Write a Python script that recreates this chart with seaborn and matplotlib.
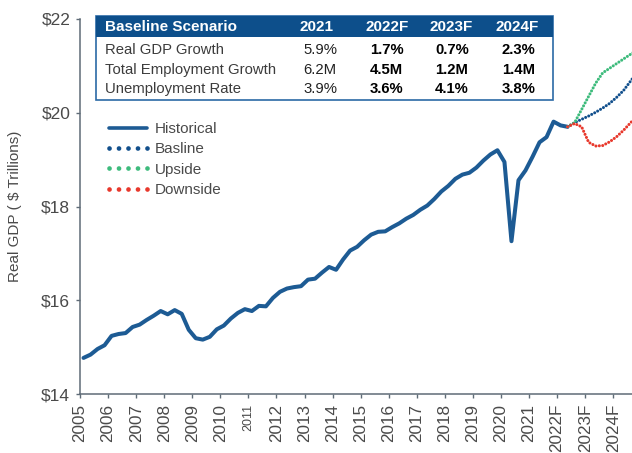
import matplotlib
matplotlib.use("Agg")
import matplotlib.pyplot as plt
import matplotlib.patches as patches
from matplotlib.lines import Line2D
from matplotlib.ticker import FuncFormatter
import seaborn as sns
import pandas as pd

# real GDP, $ trillions, quarterly from 2005Q1 to 2022Q2
hist_gdp = [14.77, 14.84, 14.96, 15.04,
            15.24, 15.28, 15.30, 15.43,
            15.48, 15.58, 15.67, 15.77,
            15.70, 15.79, 15.71, 15.37,
            15.19, 15.16, 15.22, 15.38,
            15.46, 15.61, 15.73, 15.81,
            15.77, 15.88, 15.87, 16.05,
            16.18, 16.25, 16.28, 16.30,
            16.44, 16.46, 16.59, 16.71,
            16.65, 16.87, 17.06, 17.14,
            17.28, 17.40, 17.46, 17.47,
            17.56, 17.64, 17.74, 17.82,
            17.93, 18.02, 18.16, 18.32,
            18.44, 18.59, 18.68, 18.72,
            18.83, 18.98, 19.11, 19.20,
            18.95, 17.26, 18.56, 18.77,
            19.06, 19.37, 19.48, 19.81,
            19.73, 19.70]

# forecasts, 2022Q2 to 2024Q4
baseline = [19.70, 19.79, 19.86, 19.93, 20.01, 20.10, 20.20, 20.33, 20.48, 20.68, 20.88]
upside = [19.70, 19.79, 20.07, 20.35, 20.63, 20.85, 20.95, 21.05, 21.15, 21.25, 21.35]
downside = [19.70, 19.77, 19.70, 19.37, 19.29, 19.30, 19.38, 19.49, 19.63, 19.79, 19.95]

years = list(range(2005, 2025))
year_labels = [str(y) for y in range(2005, 2022)] + ["2022F", "2023F", "2024F"]
y_ticks = [14, 16, 18, 20, 22]

table_cols = ["Baseline Scenario", "2021", "2022F", "2023F", "2024F"]
table_rows = ["Real GDP Growth", "Total Employment Growth", "Unemployment Rate"]
table_vals = [["5.9%", "1.7%", "0.7%", "2.3%"],
              ["6.2M", "4.5M", "1.2M", "1.4M"],
              ["3.9%", "3.6%", "4.1%", "3.8%"]]

c_hist = "#1d5b94"
c_base = "#114f8c"
c_up = "#3dbb7c"
c_down = "#e8382c"
c_text = "#4a4a4a"
c_spine = "#5f6b77"
c_head = "#0d4f8b"

sns.set_style("ticks")
plt.rcParams["font.family"] = ["Liberation Sans", "DejaVu Sans"]

W, H = 632, 453
fig = plt.figure(figsize=(W / 100, H / 100), dpi=100)
ax = fig.add_axes([80 / W, 59 / H, 552 / W, 375 / H])

# quarter midpoints
hist = pd.DataFrame({"x": [2005 + (i + 0.5) / 4 for i in range(len(hist_gdp))], "gdp": hist_gdp})
fx = [2022 + (i + 1.5) / 4 for i in range(len(baseline))]
fc = pd.DataFrame({"x": fx, "base": baseline, "up": upside, "down": downside})

dots = (0, (0.01, 1.1))
sns.lineplot(data=hist, x="x", y="gdp", ax=ax, color=c_hist, linewidth=2.9,
             estimator=None, sort=False, solid_joinstyle="round")
for col, c in [("base", c_base), ("up", c_up), ("down", c_down)]:
    sns.lineplot(data=fc, x="x", y=col, ax=ax, color=c, linewidth=2.2,
                 linestyle=dots, dash_capstyle="round", estimator=None, sort=False)

ax.set_xlim(2005, 2024.67)
ax.set_ylim(14, 22)
ax.set_xticks(years)
ax.set_xticklabels(year_labels, rotation=90, fontsize=12.3, color=c_text)
ax.get_xticklabels()[6].set_fontsize(9)
ax.set_yticks(y_ticks)
ax.yaxis.set_major_formatter(FuncFormatter(lambda v, p: "\\$%d" % v))
ax.tick_params(axis="y", labelsize=12.5, labelcolor=c_text)
ax.tick_params(length=3, width=1, color=c_spine, pad=4)
ax.set_xlabel("")
ax.set_ylabel("Real GDP ( \\$ Trillions)", fontsize=11, color=c_text, labelpad=14)
for s in ["left", "bottom"]:
    ax.spines[s].set_color(c_spine)
    ax.spines[s].set_linewidth(1.1)
sns.despine(ax=ax)

leg_dots = (0, (0.01, 2.0))
handles = [Line2D([], [], color=c_hist, lw=2.6),
           Line2D([], [], color=c_base, lw=3.4, linestyle=leg_dots, dash_capstyle="round"),
           Line2D([], [], color=c_up, lw=3.4, linestyle=leg_dots, dash_capstyle="round"),
           Line2D([], [], color=c_down, lw=3.4, linestyle=leg_dots, dash_capstyle="round")]
leg = ax.legend(handles, ["Historical", "Basline", "Upside", "Downside"],
                loc="upper left", bbox_to_anchor=(0.028, 0.762), frameon=False,
                fontsize=11, handlelength=2.5, handletextpad=0.5, labelspacing=0.42)
for t in leg.get_texts():
    t.set_color(c_text)


# table drawn in pixel positions of the figure
def P(x, y):
    return x / W, 1 - y / H


tl, tr, tt, tb, th = 96, 553, 16, 100, 37
fig.add_artist(patches.Rectangle(P(tl, tb), (tr - tl) / W, (tb - tt) / H,
                                 transform=fig.transFigure, facecolor="white",
                                 edgecolor="#2b6aa6", lw=1.2, zorder=5))
fig.add_artist(patches.Rectangle(P(tl, th), (tr - tl) / W, (th - tt) / H,
                                 transform=fig.transFigure, facecolor=c_head,
                                 edgecolor="none", zorder=6))
head_x = [105, 300, 366, 430, 496]
val_x = [303, 370, 435, 502]
row_y = [50, 70, 89]
for x, t in zip(head_x, table_cols):
    fig.text(*P(x, 27), t, color="white", fontsize=11, fontweight="bold",
             va="center", ha="left", zorder=7)
for r, name in enumerate(table_rows):
    fig.text(*P(105, row_y[r]), name, color="#3c3c3c", fontsize=10.7,
             va="center", ha="left", zorder=7)
    for c, v in enumerate(table_vals[r]):
        fig.text(*P(val_x[c], row_y[r]), v, color="black" if c else "#222222",
                 fontsize=10.7, fontweight="bold" if c else "normal",
                 va="center", ha="left", zorder=7)

fig.savefig("out.png", dpi=100)
